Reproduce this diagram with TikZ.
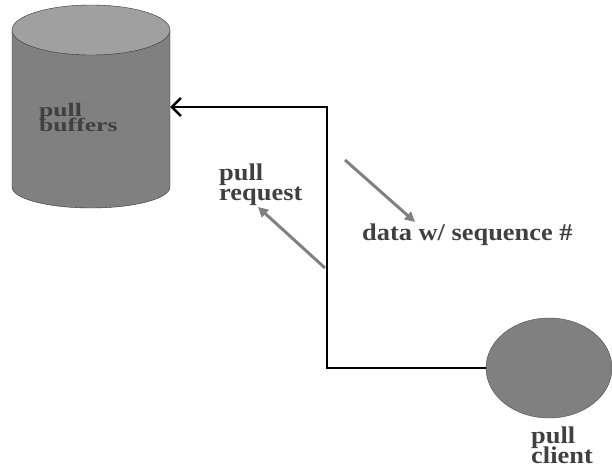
\documentclass[tikz,border=0pt]{standalone}
\usepackage{fontspec}
\setmainfont{Liberation Serif}[FakeStretch=1.1]
\newfontfamily\widefont{Liberation Serif}[FakeStretch=1.35]
\usepackage{xcolor}
\usetikzlibrary{positioning,shapes.geometric,arrows.meta}
\definecolor{body-gray}{RGB}{128,128,128}
\definecolor{lid-gray}{RGB}{160,160,160}
\definecolor{text-gray}{RGB}{64,64,64}
\newcommand\tightlines{\lineskiplimit=-20pt\relax}

\begin{document}
\begin{tikzpicture}
[
x=1pt, y=-1pt,
store-a/.style={ellipse, draw=black!70, fill=body-gray, minimum width=126pt, minimum height=100pt, inner sep=0pt},
text-a/.style={font={\bfseries\fontsize{24}{19.5}\selectfont\tightlines}, text=text-gray, align=left, inner sep=0pt, anchor=base west},
flow-a/.style={line width=3pt, draw=body-gray, -{Triangle[length=10pt,width=10pt]}},
link-a/.style={line width=2.6pt, {Straight Barb[length=9pt,width=18pt]}-}
]
\useasboundingbox (0,0) rectangle (612,471);
% buffer store
\filldraw [fill=body-gray, draw=black!80, thin] (12,30) -- (12,187) arc [start angle=180, end angle=0, x radius=79, y radius=21] -- (170,30) -- cycle;
\filldraw [fill=lid-gray, draw=black!80, thin] (91,30) ellipse [x radius=79, y radius=25];
\coordinate (buf-in) at (170,107);
\node (buf-id)     [text-a, font={\widefont\bfseries\fontsize{19}{14.5}\selectfont\tightlines}] at (39,131) {pull\\buffers};
% client
\node (client)     [store-a] at (549,368) { };
\node (client-id)  [text-a] at (531,463)  {pull\\client};
% link
\coordinate (bend) at (327,368);
\draw [link-a] (buf-in) -| (bend) -- (client.west);
% flows
\coordinate (req-from) at (325,268);
\coordinate (req-to)   at (258,207);
\coordinate (dat-from) at (345,160);
\coordinate (dat-to)   at (415,222);
\node (req-id)     [text-a] at (219,200)  {pull\\request};
\node (dat-id)     [text-a] at (362,240)  {data w/ sequence \#};
\draw [flow-a] (req-from) -- (req-to);
\draw [flow-a] (dat-from) -- (dat-to);
\end{tikzpicture}
\end{document}
